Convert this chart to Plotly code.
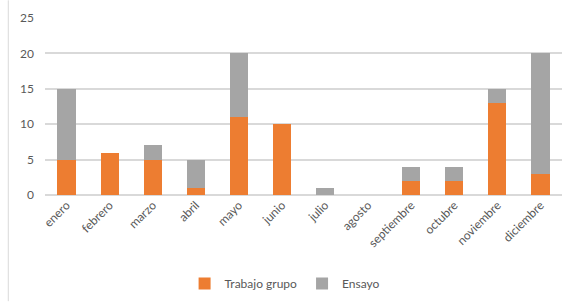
import plotly.graph_objects as go

meses = ["enero", "febrero", "marzo", "abril", "mayo", "junio", "julio",
         "agosto", "septiembre", "octubre", "noviembre", "diciembre"]
trabajo_grupo = [5, 6, 5, 1, 11, 10, 0, 0, 2, 2, 13, 3]
ensayo = [10, 0, 2, 4, 9, 0, 1, 0, 2, 2, 2, 17]
y_ticks = [0, 5, 10, 15, 20, 25]

fig = go.Figure()
fig.add_trace(go.Bar(x=meses, y=trabajo_grupo, name="Trabajo grupo",
                     marker=dict(color="#ED7D31", line=dict(width=0))))
fig.add_trace(go.Bar(x=meses, y=ensayo, name="Ensayo",
                     marker=dict(color="#A5A5A5", line=dict(width=0))))

fig.update_layout(
    barmode="stack",
    bargap=0.58,
    width=568, height=304,
    margin=dict(l=45, r=6, t=18, b=106),
    paper_bgcolor="white", plot_bgcolor="white",
    font=dict(family="Lato, sans-serif", size=12, color="#595959"),
    showlegend=True,
    legend=dict(orientation="h", x=0.27, xanchor="left", y=-0.5, yanchor="middle",
                font=dict(size=12, color="#595959"), itemwidth=30, traceorder="normal"),
    xaxis=dict(tickangle=-45, showgrid=False, showline=False, ticks="", automargin=False,
               tickfont=dict(size=12, color="#595959")),
    yaxis=dict(range=[0, 25], tickvals=y_ticks, showgrid=True, gridcolor="#D9D9D9",
               gridwidth=1.5, zeroline=True, zerolinecolor="#D9D9D9", zerolinewidth=1.5,
               showline=False, ticks="", ticklabelstandoff=10, automargin=False,
               tickfont=dict(size=12, color="#595959")),
)
fig.add_shape(type="line", xref="paper", yref="paper", x0=-0.071, x1=-0.071, y0=-0.6, y1=1.1,
              line=dict(color="#D9D9D9", width=1))

fig.write_html("out.html", config={"displayModeBar": False},
               post_script="document.body.style.margin='0';")
